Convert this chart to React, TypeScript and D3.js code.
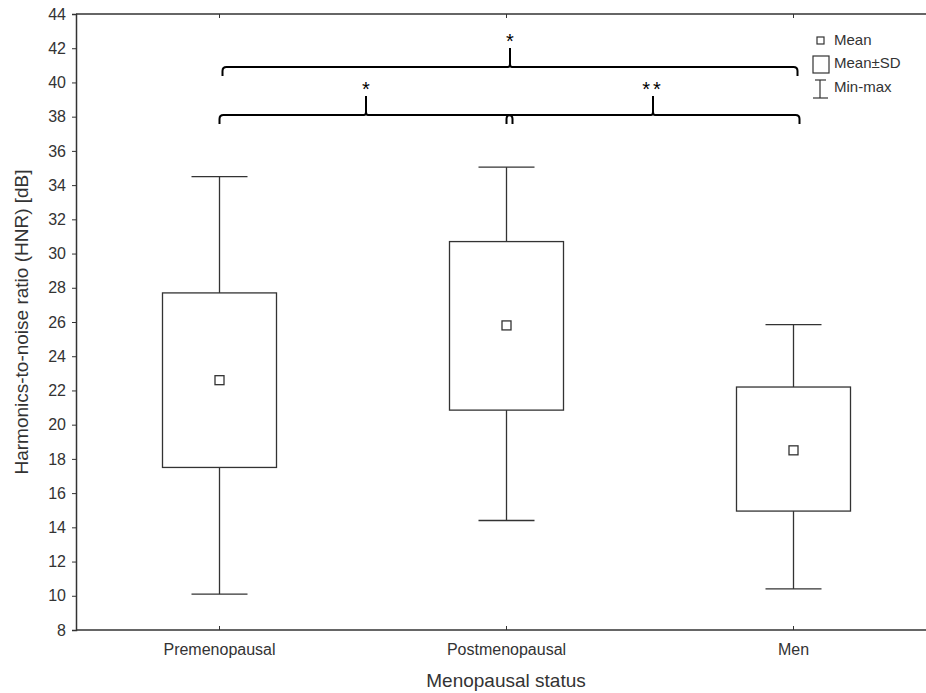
import React, { useEffect, useRef } from "react";
import * as d3 from "d3";

const groups = ["Premenopausal", "Postmenopausal", "Men"];
const maxVals = [34.5, 35.05, 25.85];
const sdHigh = [27.7, 30.7, 22.2];
const means = [22.6, 25.8, 18.5];
const sdLow = [17.5, 20.85, 14.95];
const minVals = [10.1, 14.4, 10.4];
const yTicks = [8, 10, 12, 14, 16, 18, 20, 22, 24, 26, 28, 30, 32, 34, 36, 38, 40, 42, 44];

// significance brackets: from group, to group, level (dB), label
const sigFrom = ["Premenopausal", "Premenopausal", "Postmenopausal"];
const sigTo = ["Men", "Postmenopausal", "Men"];
const sigLevel = [40.9, 38.1, 38.1];
const sigLabel = ["*", "*", "**"];

export default function App() {
  const ref = useRef<SVGSVGElement>(null);

  useEffect(() => {
    document.body.style.margin = "0";
    document.body.style.overflow = "hidden";

    const width = 926;
    const left = 76;
    const top = 14;
    const bottom = 630;
    const ink = "#333";
    const font = "'Liberation Sans', Arial, sans-serif";

    const svg = d3.select(ref.current);
    svg.selectAll("*").remove();

    const x = d3.scaleBand().domain(groups).range([left, left + 3 * 287]);
    const y = d3.scaleLinear().domain([8, 44]).range([bottom, top]);
    const cx = (g: string) => (x(g) as number) + x.bandwidth() / 2;

    // frame (no right edge, it falls off the picture)
    svg.append("line").attr("x1", left).attr("x2", width).attr("y1", top).attr("y2", top)
      .attr("stroke", ink).attr("stroke-width", 1.5);
    svg.append("line").attr("x1", left).attr("x2", width).attr("y1", bottom).attr("y2", bottom)
      .attr("stroke", ink).attr("stroke-width", 1.5);

    // y axis
    const yAxis = svg.append("g")
      .attr("transform", `translate(${left},0)`)
      .call(d3.axisLeft(y).tickValues(yTicks).tickSize(4).tickPadding(6));
    yAxis.select(".domain").attr("stroke", ink).attr("stroke-width", 1.5);
    yAxis.selectAll(".tick line").attr("stroke", ink);
    yAxis.selectAll("text").attr("fill", ink).style("font-size", "16px").style("font-family", font);

    // category ticks on top and bottom (inside)
    groups.forEach((g) => {
      svg.append("line").attr("x1", cx(g)).attr("x2", cx(g)).attr("y1", bottom).attr("y2", bottom - 4).attr("stroke", ink);
      svg.append("line").attr("x1", cx(g)).attr("x2", cx(g)).attr("y1", top).attr("y2", top + 4).attr("stroke", ink);
      svg.append("text").attr("x", cx(g)).attr("y", 655).attr("text-anchor", "middle")
        .attr("fill", ink).style("font-size", "16px").style("font-family", font).text(g);
    });

    // axis titles
    svg.append("text").attr("x", 506).attr("y", 687).attr("text-anchor", "middle")
      .attr("fill", ink).style("font-size", "19px").style("font-family", font).text("Menopausal status");
    svg.append("text").attr("transform", "translate(28,322) rotate(-90)").attr("text-anchor", "middle")
      .attr("fill", ink).style("font-size", "19px").style("font-family", font)
      .text("Harmonics-to-noise ratio (HNR) [dB]");

    // whiskers, boxes, means
    const boxW = 114;
    const capW = 56;
    const mk = 9;
    groups.forEach((g, i) => {
      const c = cx(g);
      const gr = svg.append("g").attr("stroke", ink).attr("stroke-width", 1.3).attr("fill", "none");
      gr.append("line").attr("x1", c).attr("x2", c).attr("y1", y(maxVals[i])).attr("y2", y(sdHigh[i]));
      gr.append("line").attr("x1", c).attr("x2", c).attr("y1", y(sdLow[i])).attr("y2", y(minVals[i]));
      gr.append("line").attr("x1", c - capW / 2).attr("x2", c + capW / 2).attr("y1", y(maxVals[i])).attr("y2", y(maxVals[i]));
      gr.append("line").attr("x1", c - capW / 2).attr("x2", c + capW / 2).attr("y1", y(minVals[i])).attr("y2", y(minVals[i]));
      gr.append("rect").attr("x", c - boxW / 2).attr("y", y(sdHigh[i]))
        .attr("width", boxW).attr("height", y(sdLow[i]) - y(sdHigh[i]));
      gr.append("rect").attr("x", c - mk / 2).attr("y", y(means[i]) - mk / 2).attr("width", mk).attr("height", mk);
    });

    // significance brackets
    const hook = 9;
    const r = 4;
    sigFrom.forEach((f, i) => {
      const x1 = cx(f) + (i === 0 ? 3 : 0);
      const x2 = cx(sigTo[i]) + (i === 0 ? 4 : 6);
      const yy = y(sigLevel[i]);
      const mid = (x1 + x2) / 2;
      const p = d3.path();
      p.moveTo(x1, yy + hook);
      p.lineTo(x1, yy + r);
      p.quadraticCurveTo(x1, yy, x1 + r, yy);
      p.lineTo(mid - 2, yy);
      p.quadraticCurveTo(mid, yy, mid, yy - 3);
      p.lineTo(mid, yy - 19);
      p.moveTo(mid, yy - 3);
      p.quadraticCurveTo(mid, yy, mid + 2, yy);
      p.lineTo(x2 - r, yy);
      p.quadraticCurveTo(x2, yy, x2, yy + r);
      p.lineTo(x2, yy + hook);
      svg.append("path").attr("d", p.toString()).attr("fill", "none")
        .attr("stroke", "#000").attr("stroke-width", 2);
      svg.append("text").attr("x", mid).attr("y", yy - 19).attr("text-anchor", "middle")
        .attr("fill", "#000").style("font-size", "20px").style("font-family", font)
        .style("letter-spacing", sigLabel[i].length > 1 ? "3px" : "0px")
        .text(sigLabel[i]);
    });

    // legend
    const lg = svg.append("g").attr("stroke", ink).attr("stroke-width", 1.2).attr("fill", "none");
    lg.append("rect").attr("x", 817).attr("y", 37).attr("width", 7).attr("height", 7);
    lg.append("rect").attr("x", 813).attr("y", 56).attr("width", 16).attr("height", 17);
    lg.append("line").attr("x1", 820).attr("x2", 820).attr("y1", 80).attr("y2", 98);
    lg.append("line").attr("x1", 815).attr("x2", 826).attr("y1", 80).attr("y2", 80);
    lg.append("line").attr("x1", 813).attr("x2", 828).attr("y1", 98).attr("y2", 98);
    const legendText = ["Mean", "Mean±SD", "Min-max"];
    const legendY = [45, 68, 92];
    legendText.forEach((t, i) => {
      svg.append("text").attr("x", 834).attr("y", legendY[i]).attr("fill", ink)
        .style("font-size", "15px").style("font-family", font).text(t);
    });
  }, []);

  return (
    <div style={{ position: "absolute", left: 0, top: 0 }}>
      <svg ref={ref} width={926} height={693} style={{ display: "block", background: "#fff" }} />
    </div>
  );
}
